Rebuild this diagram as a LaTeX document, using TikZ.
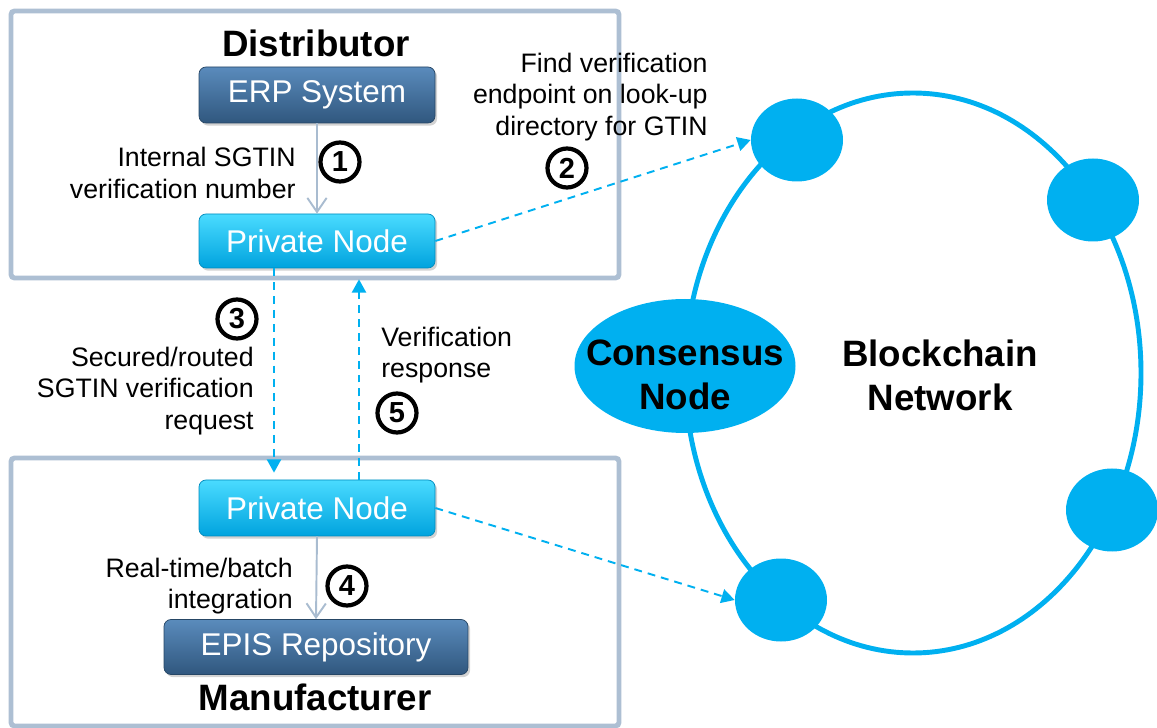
\documentclass[tikz,border=0pt]{standalone}
\usepackage{fontspec}
\setmainfont{Liberation Sans}
\usetikzlibrary{arrows.meta,shadows,shapes.geometric,calc}

\definecolor{framegray}{HTML}{ADBFD3}
\definecolor{netblue}{HTML}{00B0F0}
\definecolor{erptop}{HTML}{5A8BBC}
\definecolor{erpbot}{HTML}{30577E}
\definecolor{pntop}{HTML}{4ADBFF}
\definecolor{pnbot}{HTML}{00A3DE}
\definecolor{arrowgray}{HTML}{A9BCD0}

\tikzset{
  partyframe/.style={draw=framegray, line width=2.8pt, rounded corners=2pt},
  partytitle/.style={font=\bfseries\fontsize{20.9}{25}\selectfont},
  darkbox/.style={rounded corners=4pt, top color=erptop, bottom color=erpbot, draw=erpbot!80!black, line width=0.4pt, text=white, inner sep=0pt, font=\fontsize{17.9}{21}\selectfont, drop shadow={opacity=0.35, shadow xshift=1.2pt, shadow yshift=-1.5pt}},
  pnbox/.style={darkbox, top color=pntop, bottom color=pnbot, draw=pnbot!85!black, minimum width=4.72cm},
  peer/.style={ellipse, fill=netblue, minimum width=1.84cm, minimum height=1.66cm, inner sep=0pt},
  numcirc/.style={circle, draw=black, line width=2.4pt, minimum size=0.78cm, inner sep=0pt, font=\bfseries\fontsize{16.5}{16.5}\selectfont},
  lbl/.style={align=right, inner sep=0pt, font=\fontsize{15.2}{17.8}\selectfont},
  flowdash/.style={draw=netblue, line width=1.1pt, dash pattern=on 4.5pt off 3.4pt, -{Triangle[length=7.5pt,width=8pt]}},
  flowgray/.style={draw=arrowgray, line width=1.1pt, -{Straight Barb[length=8pt,width=11pt]}}
}

\begin{document}
\begin{tikzpicture}
        \useasboundingbox (0,0) rectangle (23.14,14.54);
        % frames
        \path[partyframe](0.22,8.98)rectangle(12.38,14.32);
        \path[partyframe](0.22,0.02)rectangle(12.38,5.38);
        % distributor
        \node[partytitle](dist)at(6.32,13.68){Distributor};
        \node[darkbox, minimum width=4.72cm, minimum height=1.12cm](erp)at(6.34,12.64){ERP System};
        \node[pnbox, minimum height=1.08cm](pn1)at(6.34,9.72){Private Node};
        % manufacturer
        \node[pnbox, minimum height=1.12cm](pn2)at(6.34,4.38){Private Node};
        \node[darkbox, minimum width=6.08cm, minimum height=1.10cm](epis)at(6.32,1.60){EPIS Repository};
        \node[partytitle](manu)at(6.30,0.60){Manufacturer};
        % blockchain ring
        \coordinate(ring)at(18.26,7.08);
        \path[draw, netblue, line width=2.8pt](ring)ellipse[x radius=4.56cm, y radius=5.60cm];
        \node[peer](n1)at(15.94,11.74){};
        \node[peer](n2)at(21.86,10.54){};
        \node[peer](n3)at(22.24,4.34){};
        \node[peer](n4)at(15.62,2.54){};
        \node[peer, minimum width=4.42cm, minimum height=2.68cm](cons)at(13.70,7.22){};
        \node[partytitle, align=center](constext)at(13.70,7.04){Consensus\\Node};
        \node[partytitle, align=center](net)at(18.80,7.04){Blockchain\\Network};
        % flows
        \path[flowgray](erp.south)to(pn1.north);
        \path[flowgray](pn2.south)to(epis.north);
        \path[flowdash](pn1.east)to(n1.west);
        \path[flowdash](pn2.east)to(n4.west);
        \path[flowdash]([xshift=-0.86cm]pn1.south)to([xshift=-0.86cm, yshift=0.14cm]pn2.north);
        \path[flowdash]([xshift=0.84cm]pn2.north)to([xshift=0.84cm, yshift=-0.22cm]pn1.south);
        % labels
        \node[lbl, anchor=east](l1)at(5.92,11.08){Internal SGTIN\\verification number};
        \node[lbl, anchor=east](l2)at(14.16,12.60){Find verification\\endpoint on look-up\\directory for GTIN};
        \node[lbl, anchor=east](l3)at(5.08,6.72){Secured/routed\\SGTIN verification\\request};
        \node[lbl, anchor=west, align=left](l5)at(7.62,7.44){Verification\\response};
        \node[lbl, anchor=east](l4)at(5.86,2.82){Real-time/batch\\integration};
        % step numbers
        \node[numcirc](c1)at(6.80,11.30){1};
        \node[numcirc](c2)at(11.34,11.18){2};
        \node[numcirc](c3)at(4.74,8.16){3};
        \node[numcirc](c4)at(6.94,2.82){4};
        \node[numcirc](c5)at(7.94,6.28){5};
    \end{tikzpicture}
\end{document}
